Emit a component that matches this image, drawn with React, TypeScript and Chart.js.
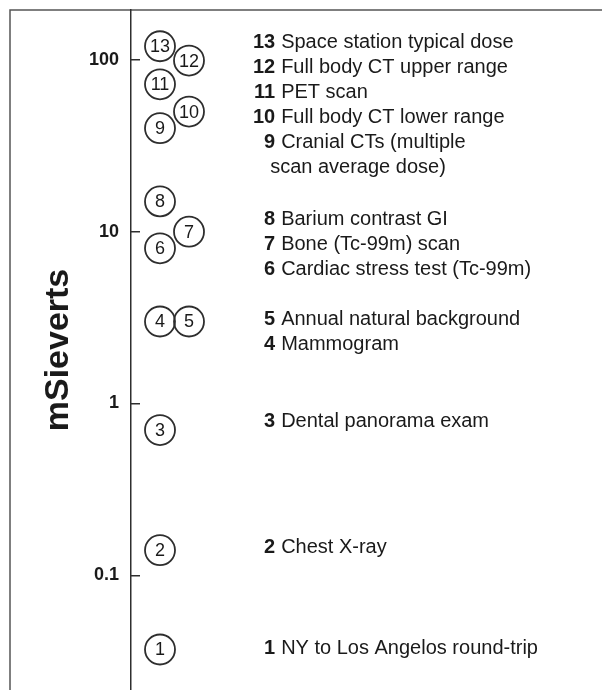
import React, { useEffect, useRef } from "react";
import { Chart, registerables } from "chart.js";

Chart.register(...registerables);

// ---- data ----
const itemIds = [1, 2, 3, 4, 5, 6, 7, 8, 9, 10, 11, 12, 13];
const doseValues = [0.037, 0.14, 0.7, 3.0, 3.0, 8.0, 10, 15, 40, 50, 72, 99, 120];
const columnIndex = [0, 0, 0, 0, 1, 0, 1, 0, 0, 1, 0, 1, 0];
const itemLabels = [
  "NY to Los Angelos round-trip",
  "Chest X-ray",
  "Dental panorama exam",
  "Mammogram",
  "Annual natural background",
  "Cardiac stress test (Tc-99m)",
  "Bone (Tc-99m) scan",
  "Barium contrast GI",
  "Cranial CTs (multiple",
  "Full body CT lower range",
  "PET scan",
  "Full body CT upper range",
  "Space station typical dose",
];
// value on the dose axis at which each legend row sits
const labelAnchorValues = [0.0376, 0.145, 0.785, 2.21, 3.09, 6.05, 8.45, 11.8, 33.0, 46.1, 64.5, 90, 126];
const continuationText = "scan average dose)";
const continuationValue = 23.6;
const tickValues = [0.1, 1, 10, 100];
const tickLabels = ["0.1", "1", "10", "100"];
const axisTitle = "mSieverts";

const LABEL_COLUMN = 3.97;
const INK = "#1a1a1a";
const LINE = "#2e2e2e";

const framePlugin = {
  id: "frame",
  beforeDraw(chart: any) {
    const { ctx, width, height } = chart;
    ctx.save();
    ctx.strokeStyle = "#555555";
    ctx.lineWidth = 1.5;
    ctx.beginPath();
    ctx.moveTo(10, height);
    ctx.lineTo(10, 10);
    ctx.lineTo(width, 10);
    ctx.stroke();
    ctx.restore();
  },
};

const circleNumberPlugin = {
  id: "circleNumbers",
  afterDatasetsDraw(chart: any) {
    const { ctx } = chart;
    const meta = chart.getDatasetMeta(0);
    ctx.save();
    ctx.fillStyle = INK;
    ctx.font = '18px "Liberation Sans", Arial, sans-serif';
    ctx.textAlign = "center";
    ctx.textBaseline = "middle";
    meta.data.forEach((pt: any, i: number) => {
      ctx.fillText(String(itemIds[i]), pt.x, pt.y + 1);
    });
    ctx.restore();
  },
};

const legendRowsPlugin = {
  id: "legendRows",
  afterDraw(chart: any) {
    const { ctx } = chart;
    const xs = chart.scales.x;
    const ys = chart.scales.y;
    const numRight = xs.getPixelForValue(LABEL_COLUMN);
    ctx.save();
    ctx.fillStyle = INK;
    ctx.textBaseline = "middle";
    itemIds.forEach((id, i) => {
      const y = ys.getPixelForValue(labelAnchorValues[i]);
      ctx.font = 'bold 20px "Liberation Sans", Arial, sans-serif';
      ctx.textAlign = "right";
      ctx.fillText(String(id), numRight, y);
      ctx.font = '20px "Liberation Sans", Arial, sans-serif';
      ctx.textAlign = "left";
      ctx.fillText(itemLabels[i], numRight + 6, y);
    });
    ctx.font = '20px "Liberation Sans", Arial, sans-serif';
    ctx.textAlign = "left";
    ctx.fillText(continuationText, numRight - 5, ys.getPixelForValue(continuationValue));
    ctx.restore();
  },
};

export default function App() {
  const canvasRef = useRef<HTMLCanvasElement | null>(null);

  useEffect(() => {
    const canvas = canvasRef.current;
    if (!canvas) return;
    const chart = new Chart(canvas, {
      type: "scatter",
      data: {
        datasets: [
          {
            data: doseValues.map((v, i) => ({ x: columnIndex[i], y: v })),
            pointRadius: 15,
            pointHoverRadius: 15,
            pointBackgroundColor: "rgba(0,0,0,0)",
            pointBorderColor: LINE,
            pointBorderWidth: 1.8,
            showLine: false,
            clip: false,
          },
        ],
      },
      options: {
        responsive: false,
        animation: false,
        events: [],
        layout: { autoPadding: false, padding: { top: 10, left: 10, right: 0, bottom: 0 } },
        plugins: { legend: { display: false }, tooltip: { enabled: false } },
        scales: {
          x: {
            type: "linear",
            display: false,
            min: -1,
            max: 15.24,
          },
          y: {
            type: "logarithmic",
            position: "left",
            min: 0.0215,
            max: 195,
            afterFit: (scale: any) => {
              scale.width = 121;
              scale.paddingTop = 0;
              scale.paddingBottom = 0;
            },
            afterBuildTicks: (scale: any) => {
              scale.ticks = tickValues.map((v) => ({ value: v }));
            },
            border: { display: true, color: LINE, width: 1.5 },
            grid: {
              display: true,
              drawOnChartArea: false,
              drawTicks: true,
              tickLength: -9,
              color: LINE,
              lineWidth: 1.5,
            },
            ticks: {
              padding: 21,
              color: INK,
              font: { family: '"Liberation Sans", Arial, sans-serif', size: 18, weight: "bold" },
              callback: (value: any) => {
                const idx = tickValues.indexOf(Number(value));
                return idx >= 0 ? tickLabels[idx] : "";
              },
            },
            title: {
              display: true,
              text: axisTitle,
              color: INK,
              padding: { top: 28, bottom: 0 },
              font: { family: '"Liberation Sans", Arial, sans-serif', size: 34, weight: "bold" },
            },
          },
        },
      },
      plugins: [framePlugin, circleNumberPlugin, legendRowsPlugin],
    });
    return () => chart.destroy();
  }, []);

  return (
    <div style={{ position: "absolute", left: 0, top: 0, width: 602, height: 690, background: "#fff" }}>
      <canvas ref={canvasRef} width={602} height={690} style={{ display: "block" }} />
    </div>
  );
}
